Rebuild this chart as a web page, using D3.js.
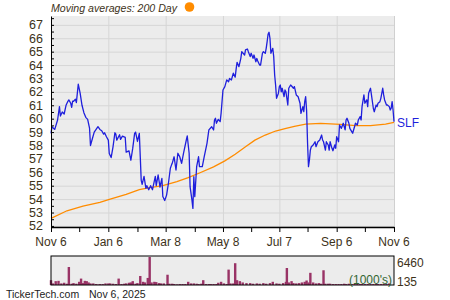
<!DOCTYPE html>
<html>
<head>
<meta charset="utf-8">
<script src="https://cdn.jsdelivr.net/npm/d3@7"></script>
<style>
  body { margin: 0; background: #fff; }
  svg { display: block; font-family: "Liberation Sans", Arial, sans-serif; }
</style>
</head>
<body>
<div id="chart"></div>
<script>
// SLF, Nov 6 2024 -> Nov 6 2025
var startDate = new Date(2024, 10, 6);
var endDate = new Date(2025, 10, 6);

// price: days since start, close
var priceDays = [0,1,4,7,9,10,12,14,16,18,19,21,22,23,24,26,27,29,31,33,35,37,39,41,42,44,46,48,50,52,54,56,57,59,61,62,64,66,68,69,70,73,74,76,79,80,83,85,87,89,90,92,94,96,97,99,101,102,104,106,108,111,112,114,116,118,119,121,123,125,127,128,129,131,133,135,137,139,141,144,145,147,148,150,151,152,153,155,157,158,161,163,166,168,171,173,174,175,176,178,180,181,183,185,187,189,190,192,194,196,197,198,200,202,203,206,207,209,210,212,213,215,216,218,219,220,222,223,225,226,228,229,230,231,232,233,234,236,237,238,239,240,242,243,244,245,246,248,249,250,252,253,255,256,258,259,261,263,265,266,268,269,270,271,272,273,274,275,276,277,279,281,282,284,286,288,289,290,292,293,295,296,297,299,300,302,303,304,306,307,309,311,313,314,315,317,318,320,321,323,324,326,327,329,330,331,333,334,336,337,338,340,341,343,344,346,347,348,350,351,353,354,355,357,358,360,361,362,363,364,365];
var priceClose = [58.9,59.4,59.2,59.9,60.9,60.2,60.5,60.35,61.0,61.3,61.4,61.15,60.85,61.3,61.3,61.45,61.2,62.57,61.9,61.0,60.45,60.1,59.95,59.3,58.0,58.5,59.0,59.2,59.4,59.2,59.1,58.85,58.95,58.65,58.4,57.4,57.1,57.9,58.95,58.85,58.4,58.8,58.45,58.7,58.6,57.5,57.6,56.9,57.8,58.9,59.0,58.3,58.9,55.4,55.1,55.7,54.8,55.0,54.7,55.0,54.7,55.7,55.0,55.8,54.9,55.55,54.2,53.9,54.3,55.2,56.3,56.5,56.67,57.16,56.17,57.42,57.16,56.67,57.42,58.41,58.71,57.42,54.93,53.93,53.31,55.67,54.18,56.42,57.16,56.42,56.42,57.16,58.16,59.16,59.4,59.16,59.9,60.03,59.66,59.95,59.78,60.4,62.14,62.39,62.89,62.76,63.0,62.89,63.39,63.1,63.7,64.2,63.88,64.5,65.0,64.75,65.13,65.2,65.0,64.63,64.88,64.5,64.75,64.25,64.5,64.3,64.0,64.0,64.88,65.0,64.88,65.25,65.75,66.3,66.45,66.0,64.88,65.25,64.63,63.26,62.51,61.52,61.9,62.39,62.51,62.01,62.27,61.64,62.14,62.01,61.02,62.27,62.51,62.44,62.27,62.39,61.77,61.64,61.15,60.4,60.9,60.52,61.27,61.64,60.6,58.2,56.42,56.92,57.66,57.91,58.04,58.28,57.91,58.28,58.41,58.78,58.41,58.28,57.66,58.28,58.04,57.66,58.28,57.79,57.61,58.04,57.79,58.66,58.28,59.53,59.28,59.66,59.16,59.9,60.03,59.66,59.28,59.03,58.91,59.4,59.66,59.53,59.9,60.15,59.9,60.9,61.77,61.15,61.4,60.9,61.9,62.27,61.77,60.78,60.52,61.02,60.9,61.15,61.27,61.52,62.27,61.77,61.4,61.02,61.02,60.9,60.65,60.78,61.27,60.65,59.78];

// 200 day moving average
var maDays = [0,17,34,52,63,80,94,105,119,134,146,158,173,185,196,207,217,228,239,249,259,271,287,308,324,340,356,365];
var maValues = [52.57,53.13,53.48,53.76,54.0,54.35,54.7,54.85,55.0,55.3,55.6,55.95,56.4,56.85,57.35,57.9,58.4,58.78,59.08,59.25,59.42,59.6,59.65,59.58,59.48,59.48,59.6,59.73];

// volume in 1000's
var volDays = [0,2,5,8,11,14,17,19,22,24,27,30,32,34,36,38,40,42,45,48,50,52,55,58,61,63,66,69,72,75,78,80,83,85,87,90,92,95,98,100,103,105,107,110,112,115,117,120,124,126,129,131,134,137,140,143,146,149,152,155,157,160,162,165,168,170,173,176,178,181,184,187,189,191,194,196,198,201,204,208,212,215,219,222,226,229,233,236,240,243,247,250,251,253,256,258,261,264,267,270,272,274,276,279,282,285,287,290,292,295,297,300,303,306,309,312,314,317,320,323,326,329,331,334,337,340,343,346,348,351,354,357,360,362];
var volValues = [1110,370,890,960,370,520,300,4150,300,440,300,740,1480,440,960,890,590,370,370,220,80,220,220,370,370,370,300,220,1480,220,300,370,520,590,890,300,440,2080,740,590,1630,6460,590,740,670,440,370,370,2370,300,300,220,150,220,220,220,740,370,370,300,220,300,1110,220,220,220,220,220,520,740,370,220,3550,370,370,5030,1110,890,590,440,440,300,370,300,440,300,440,740,370,300,440,740,3920,590,890,440,370,440,590,740,1040,590,2810,590,370,440,300,3400,300,300,300,220,220,220,220,300,220,300,220,220,220,220,220,220,220,220,220,220,220,220,220,220,370];

var yTicks = [52,53,54,55,56,57,58,59,60,61,62,63,64,65,66,67];
var xLabelDates = ["2024-11-06","2025-01-06","2025-03-08","2025-05-08","2025-07-07","2025-09-06","2025-11-06"];
var xMinorDates = ["2024-12-06","2025-02-06","2025-04-08","2025-06-07","2025-08-06","2025-10-06"];
var xLabels = ["Nov 6","Jan 6","Mar 8","May 8","Jul 7","Sep 6","Nov 6"];

var W = 450, H = 300;
var plotLeft = 51, plotRight = 394, plotTop = 16, plotBottom = 227;
var volTop = 256, volBottom = 285;
var textColor = "#3d3219";

var parse = d3.timeParse("%Y-%m-%d");
function dayDate(d) { return d3.timeDay.offset(startDate, d); }

var price = priceDays.map(function(d, i) { return {date: dayDate(d), v: priceClose[i]}; });
var ma = maDays.map(function(d, i) { return {date: dayDate(d), v: maValues[i]}; });
var vol = volDays.map(function(d, i) { return {date: dayDate(d), v: volValues[i]}; });

var x = d3.scaleTime().domain([startDate, endDate]).range([plotLeft, plotRight]);
var y = d3.scaleLinear().domain([51.92, 67.66]).range([plotBottom, plotTop]);
var yv = d3.scaleLinear().domain([0, 6460]).range([volBottom, volTop + 1]);

var svg = d3.select("#chart").append("svg")
	.attr("width", W)
	.attr("height", H);

// plot background
svg.append("rect")
	.attr("x", plotLeft).attr("y", plotTop)
	.attr("width", plotRight - plotLeft).attr("height", plotBottom - plotTop)
	.attr("fill", "#ececec");

// horizontal grid
svg.append("g")
	.attr("transform", "translate(" + plotLeft + ",0)")
	.call(d3.axisRight(y).tickValues(yTicks).tickSize(plotRight - plotLeft).tickFormat(""))
	.call(function(g) {
		g.select(".domain").remove();
		g.selectAll("line").attr("stroke", "#d6d6d6");
	});

// vertical grid at labelled dates
svg.append("g")
	.attr("transform", "translate(0," + plotTop + ")")
	.call(d3.axisBottom(x).tickValues(xLabelDates.slice(1, -1).map(parse)).tickSize(plotBottom - plotTop).tickFormat(""))
	.call(function(g) {
		g.select(".domain").remove();
		g.selectAll("line").attr("stroke", "#d6d6d6");
	});

// right border
svg.append("line")
	.attr("x1", plotRight + 0.5).attr("x2", plotRight + 0.5)
	.attr("y1", plotTop).attr("y2", plotBottom)
	.attr("stroke", "#d0d0d0");

// moving average
svg.append("path")
	.datum(ma)
	.attr("fill", "none")
	.attr("stroke", "#ff8c00")
	.attr("stroke-width", 1.3)
	.attr("d", d3.line().x(function(d) { return x(d.date); }).y(function(d) { return y(d.v); }));

// price
svg.append("path")
	.datum(price)
	.attr("fill", "none")
	.attr("stroke", "#1f1fdc")
	.attr("stroke-width", 1.3)
	.attr("stroke-linejoin", "round")
	.attr("d", d3.line().x(function(d) { return x(d.date); }).y(function(d) { return y(d.v); }));

// y axis labels
svg.append("g")
	.attr("transform", "translate(" + plotLeft + ",0)")
	.call(d3.axisLeft(y).tickValues(yTicks).tickSize(0).tickPadding(8).tickFormat(d3.format("d")))
	.call(function(g) {
		g.select(".domain").attr("stroke", "#000");
		g.selectAll("text").attr("fill", textColor).style("font-size", "12.5px");
	});

// y minor ticks, inside
var halfTicks = d3.range(52, 67.6, 0.5);
svg.append("g")
	.attr("transform", "translate(" + plotLeft + ",0)")
	.call(d3.axisRight(y).tickValues(halfTicks).tickSize(3).tickFormat(""))
	.call(function(g) {
		g.select(".domain").remove();
		g.selectAll("line").attr("stroke", "#000");
	});

// x axis
var xTickDates = xLabelDates.concat(xMinorDates).map(parse);
svg.append("g")
	.attr("transform", "translate(0," + plotBottom + ")")
	.call(d3.axisBottom(x).tickValues(xTickDates).tickSize(5).tickSizeOuter(0).tickFormat(""))
	.call(function(g) {
		g.select(".domain").attr("stroke", "#000").attr("stroke-width", 1.5);
		g.selectAll("line").attr("stroke", "#000");
	});

svg.append("g").selectAll("text")
	.data(xLabelDates)
	.enter().append("text")
	.attr("x", function(d) { return x(parse(d)); })
	.attr("y", 246)
	.attr("text-anchor", "middle")
	.attr("fill", textColor)
	.style("font-size", "12px")
	.text(function(d, i) { return xLabels[i]; });

// series label
svg.append("text")
	.attr("x", plotRight + 3)
	.attr("y", y(priceClose[priceClose.length - 1]) + 5)
	.attr("fill", "#1f1fdc")
	.style("font-size", "12px")
	.text("SLF");

// legend
svg.append("text")
	.attr("x", plotLeft)
	.attr("y", 12)
	.attr("fill", textColor)
	.style("font-size", "10.6px")
	.style("font-style", "italic")
	.text("Moving averages: 200 Day");
svg.append("circle")
	.attr("cx", 189.5).attr("cy", 7)
	.attr("r", 4.8)
	.attr("fill", "#ff8c00");

// volume panel
svg.append("rect")
	.attr("x", plotLeft).attr("y", volTop)
	.attr("width", plotRight - plotLeft).attr("height", volBottom - volTop)
	.attr("fill", "#ececec");

svg.append("g").selectAll("rect")
	.data(vol)
	.enter().append("rect")
	.attr("x", function(d) { return x(d.date) - 1.2; })
	.attr("y", function(d) { return yv(d.v); })
	.attr("width", 2.4)
	.attr("height", function(d) { return volBottom - yv(d.v); })
	.attr("fill", "#993366");

svg.append("rect")
	.attr("x", plotLeft).attr("y", volTop)
	.attr("width", plotRight - plotLeft).attr("height", volBottom - volTop)
	.attr("fill", "none")
	.attr("stroke", "#000");

svg.append("text")
	.attr("x", plotRight - 2)
	.attr("y", volBottom - 1)
	.attr("text-anchor", "end")
	.attr("fill", "#336633")
	.style("font-size", "12px")
	.text("(1000's)");

svg.append("text")
	.attr("x", plotRight + 3).attr("y", 267)
	.attr("fill", textColor)
	.style("font-size", "12px")
	.text("6460");
svg.append("text")
	.attr("x", plotRight + 3).attr("y", 286)
	.attr("fill", textColor)
	.style("font-size", "12px")
	.text("135");

// footer
svg.append("text")
	.attr("x", 6).attr("y", 298)
	.attr("fill", "#222")
	.style("font-size", "10.5px")
	.text("TickerTech.com");
svg.append("text")
	.attr("x", 89).attr("y", 298)
	.attr("fill", "#222")
	.style("font-size", "10.5px")
	.text("Nov 6, 2025");
</script>
</body>
</html>
